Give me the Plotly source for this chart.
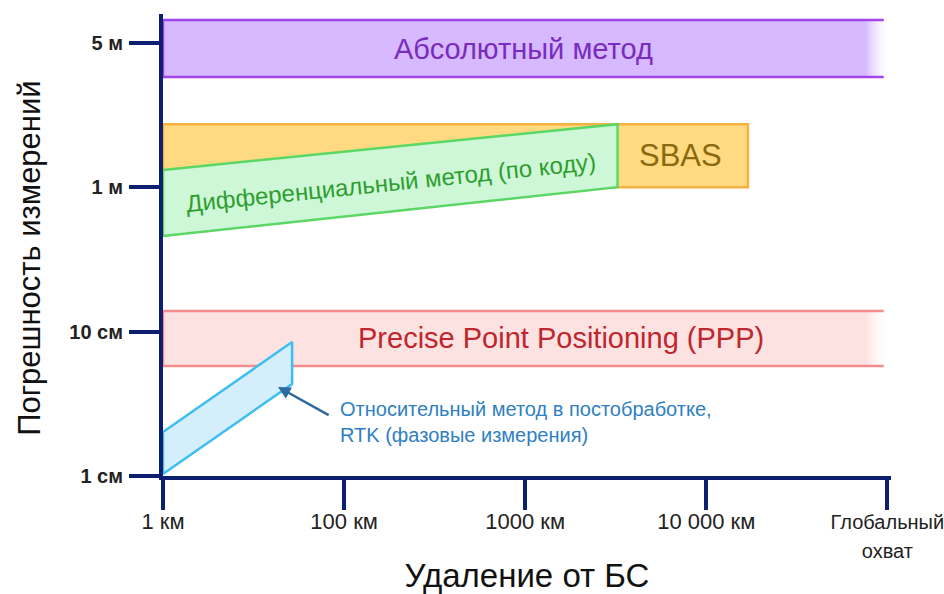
import plotly.graph_objects as go

# ---- data (axis positions are evenly spaced categories) ----
x_tick_vals = [0, 1, 2, 3, 4]
x_tick_text = ['1 км', '100 км', '1000 км', '10 000 км',
               '<span style="font-size:20px">Глобальный<br>охват</span>']
y_tick_vals = [0, 1, 2, 3]
y_tick_text = ['1 см', '10 см', '1 м', '5 м']

abs_x = [0, 4.02]
abs_lo = [2.763, 2.763]
abs_hi = [3.158, 3.158]

sbas_x = [0, 3.23]
sbas_lo = [2.0, 2.0]
sbas_hi = [2.437, 2.437]

dgps_x = [0, 2.51]
dgps_lo = [1.662, 2.0]
dgps_hi = [2.12, 2.437]

ppp_x = [0, 4.02]
ppp_lo = [0.762, 0.762]
ppp_hi = [1.143, 1.143]

rtk_x = [0, 0.713]
rtk_lo = [0.014, 0.637]
rtk_hi = [0.305, 0.928]

AXIS = '#0D1F6F'
FONT = 'Liberation Sans, Arial, sans-serif'


def poly(x, lo, hi):
    return ([x[0], x[1], x[1], x[0], x[0]], [lo[0], lo[1], hi[1], hi[0], lo[0]])


fig = go.Figure()

# Absolute method (fades out to the right)
px, py = poly(abs_x, abs_lo, abs_hi)
fig.add_trace(go.Scatter(x=px, y=py, fill='toself', mode='none',
                         fillgradient=dict(type='horizontal',
                                           colorscale=[[0, '#D6B9FF'], [0.965, '#D6B9FF'], [1, 'rgba(255,255,255,0)']]),
                         hoverinfo='skip'))
fig.add_trace(go.Scatter(x=[abs_x[1] - 0.04, abs_x[0], abs_x[0], abs_x[1] - 0.04],
                         y=[abs_hi[1], abs_hi[0], abs_lo[0], abs_lo[1]],
                         mode='lines', line=dict(color='#A246E8', width=2.5), hoverinfo='skip'))

# SBAS
px, py = poly(sbas_x, sbas_lo, sbas_hi)
fig.add_trace(go.Scatter(x=px, y=py, fill='toself', fillcolor='#FFDA80',
                         mode='lines', line=dict(color='#F7B140', width=2.5), hoverinfo='skip'))

# Differential (code)
px, py = poly(dgps_x, dgps_lo, dgps_hi)
fig.add_trace(go.Scatter(x=px, y=py, fill='toself', fillcolor='#CDF7D6',
                         mode='lines', line=dict(color='#5BD765', width=2.5), hoverinfo='skip'))

# PPP (fades out to the right)
px, py = poly(ppp_x, ppp_lo, ppp_hi)
fig.add_trace(go.Scatter(x=px, y=py, fill='toself', mode='none',
                         fillgradient=dict(type='horizontal',
                                           colorscale=[[0, '#FDE2E2'], [0.965, '#FDE2E2'], [1, 'rgba(255,255,255,0)']]),
                         hoverinfo='skip'))
fig.add_trace(go.Scatter(x=[ppp_x[1] - 0.04, ppp_x[0], ppp_x[0], ppp_x[1] - 0.04],
                         y=[ppp_hi[1], ppp_hi[0], ppp_lo[0], ppp_lo[1]],
                         mode='lines', line=dict(color='#F38C8C', width=2.5), hoverinfo='skip'))

# RTK
px, py = poly(rtk_x, rtk_lo, rtk_hi)
fig.add_trace(go.Scatter(x=px, y=py, fill='toself', fillcolor='#D4EFFB',
                         mode='lines', line=dict(color='#3DBEF3', width=2.5), hoverinfo='skip'))

annotations = [
    dict(x=1.99, y=2.957, text='Абсолютный метод', font=dict(size=29, color='#7A2BC0')),
    dict(x=2.86, y=2.223, text='SBAS', font=dict(size=31, color='#8A6A10')),
    dict(x=1.259, y=2.036, text='Дифференциальный метод (по коду)', textangle=-5.9,
         font=dict(size=24, color='#2E9E2E')),
    dict(x=2.2, y=0.956, text='Precise Point Positioning (PPP)', font=dict(size=29, color='#C0262D')),
    dict(x=0.966, y=0.374, text='Относительный метод в постобработке,<br>RTK (фазовые измерения)',
         xanchor='left', align='left', font=dict(size=20, color='#2F80C3')),
]
for a in annotations:
    a.update(xref='x', yref='y', showarrow=False)
    a['font'].setdefault('family', FONT)

annotations.append(dict(x=0.635, y=0.617, ax=0.923, ay=0.416, xref='x', yref='y', axref='x', ayref='y',
                        text='', showarrow=True, arrowhead=2, arrowsize=1, arrowwidth=2.5,
                        arrowcolor='#2C6AA0'))

# y-axis title
annotations.append(dict(x=-0.183, y=0.472, xref='paper', yref='paper', showarrow=False,
                        xanchor='center', yanchor='middle',
                        text='Погрешность измерений', textangle=-90,
                        font=dict(family=FONT, size=31, color='#111111')))

fig.update_layout(
    width=944, height=594,
    margin=dict(l=163, r=53, t=14, b=118, autoexpand=False),
    paper_bgcolor='white', plot_bgcolor='white',
    showlegend=False,
    annotations=annotations,
    xaxis=dict(range=[0, 4.02], tickvals=x_tick_vals, ticktext=x_tick_text, automargin=False,
               showgrid=False, zeroline=False, showline=True, linecolor=AXIS, linewidth=4,
               ticks='outside', ticklen=30, tickwidth=4, tickcolor=AXIS,
               ticklabelstandoff=-7, ticklabeloverflow='allow',
               tickfont=dict(family=FONT, size=22, color='#222222'),
               title=dict(text='Удаление от БС', font=dict(family=FONT, size=33, color='#111111'),
                          standoff=11)),
    yaxis=dict(range=[0, 3.2], tickvals=y_tick_vals, ticktext=y_tick_text, automargin=False,
               showgrid=False, zeroline=False, showline=True, linecolor=AXIS, linewidth=4,
               ticks='outside', ticklen=30, tickwidth=4, tickcolor=AXIS,
               ticklabelstandoff=2,
               tickfont=dict(family=FONT, size=20, color='#222222', weight='bold')),
)

fig.write_html('out.html', post_script="document.body.style.margin='0';",
               config={'displayModeBar': False})
